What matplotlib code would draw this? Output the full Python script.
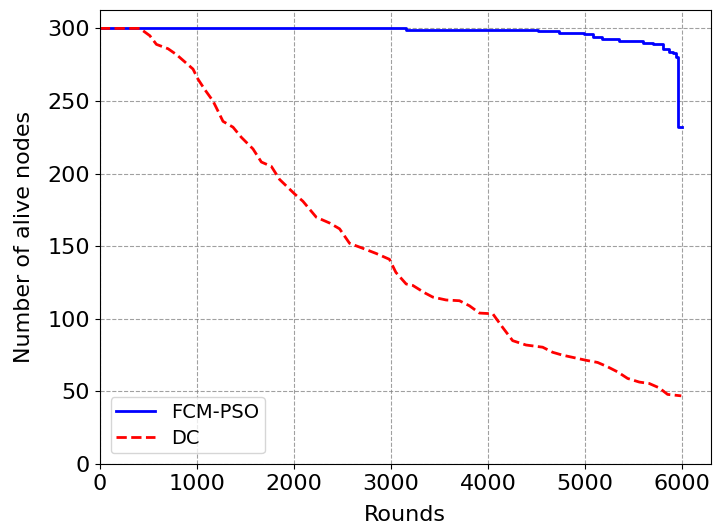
import matplotlib.pyplot as plt
import numpy as np

# FCM-PSO: rounds at which the number of alive nodes changes (step curve)
fcm_rounds = [0, 3150, 4515, 4735, 4990, 5080, 5176, 5350, 5600, 5700, 5800, 5860, 5905, 5940, 5955, 5995]
fcm_alive = [300, 299, 298, 297, 296, 294, 293, 291, 290, 289, 286, 284, 283, 280, 232, 232]

# DC
dc_rounds = [0, 412, 515, 583, 703, 789, 892, 960, 1012, 1080, 1166, 1218, 1269, 1372, 1458,
             1578, 1664, 1767, 1852, 2007, 2092, 2230, 2367, 2470, 2573, 2693, 2848, 2984,
             3050, 3156, 3225, 3345, 3430, 3568, 3705, 3808, 3911, 4048, 4151, 4253, 4391,
             4562, 4665, 4768, 4906, 5008, 5128, 5231, 5334, 5437, 5557, 5660, 5763, 5849, 5990]
dc_alive = [300, 300, 295, 289, 286, 282, 276, 272, 265, 258, 250, 243, 236, 232, 225,
            217, 208, 205, 196, 186, 181, 170, 166, 162, 152, 149, 145, 141,
            132, 124, 123, 118, 115, 113, 112.5, 109, 104, 103.5, 94, 85, 82,
            80.5, 77, 75, 73, 71.5, 70, 67, 63.5, 59, 56.5, 55.5, 52.5, 48, 47]

fig = plt.figure(figsize=(7.13, 5.28), dpi=100)
ax = fig.add_axes([0.140, 0.121, 0.857, 0.860])

ax.plot(fcm_rounds, fcm_alive, color='blue', linewidth=2, drawstyle='steps-post', label='FCM-PSO')
ax.plot(dc_rounds, dc_alive, color='red', linewidth=2, linestyle='--', label='DC')

ax.set_xlim(left=0)
ax.set_ylim(bottom=0)
ax.set_xlabel("Rounds", fontsize=16, labelpad=8)
ax.set_ylabel("Number of alive nodes", fontsize=16, labelpad=10)
ax.tick_params(labelsize=16)
ax.grid(True, linestyle='--', color='gray', alpha=0.75)
ax.legend(loc='lower left', fontsize=14, labelspacing=0.35, borderpad=0.3, borderaxespad=0.55)

fig.savefig("out.png", dpi=100)
